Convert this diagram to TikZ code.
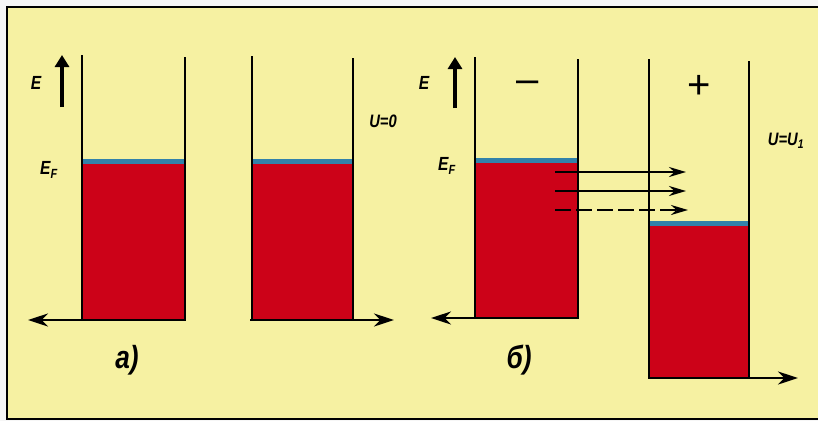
\documentclass[tikz,border=0pt]{standalone}
\usepackage{fontspec}
\setmainfont{Liberation Sans}
\newfontfamily\condfont[FakeStretch=0.82]{Liberation Sans}
\usetikzlibrary{arrows.meta}
\definecolor{bgyellow}{RGB}{246,241,162}
\definecolor{fillred}{RGB}{204,2,24}
\definecolor{fermiblue}{RGB}{50,130,170}
\begin{document}
\begin{tikzpicture}[x=1pt,y=-1pt,
  wall/.style={line width=2.8pt,black},
  sea/.style={fill=fillred,draw=black,line width=2.4pt},
  fermi/.style={line width=5pt,fermiblue},
  axisarrow/.style={line width=2.6pt,-{Stealth[length=20pt,width=13pt]}},
  eaxis/.style={line width=3.8pt,-{Triangle[length=12pt,width=14pt]}},
  lbl/.style={font=\condfont\itshape\bfseries\fontsize{19}{22}\selectfont,inner sep=0pt},
  ulbl/.style={font=\condfont\itshape\bfseries\fontsize{18}{22}\selectfont,inner sep=0pt},
  plbl/.style={font=\condfont\itshape\bfseries\fontsize{32}{38}\selectfont,inner sep=0pt},
  sign/.style={font=\fontsize{40}{44}\selectfont,inner sep=0pt},
  flow/.style={line width=2.2pt,-{Stealth[length=17pt,width=10pt]}}]
\useasboundingbox (0,0) rectangle (818,421);
\fill[white!93!gray] (0,0) rectangle (818,421);
\fill[bgyellow] (7,7) rectangle (818,419);
\draw[line width=2pt] (818,7) -- (7,7) -- (7,419) -- (818,419);

% ---------- panel a ----------
\draw[sea] (82,163) rectangle (185,320);
\draw[fermi] (83,161) -- (184,161);
\draw[wall] (82,55) -- (82,320);
\draw[wall] (185,57) -- (185,320);
\coordinate (a1r) at (185,320);
\coordinate (a1l) at (28,320);
\draw[axisarrow] (a1r) -- (a1l);

\draw[sea] (252,163) rectangle (353,320);
\draw[fermi] (253,161) -- (352,161);
\draw[wall] (252,56) -- (252,320);
\draw[wall] (353,58) -- (353,320);
\coordinate (a2l) at (250,320);
\coordinate (a2r) at (394,320);
\draw[axisarrow] (a2l) -- (a2r);

\coordinate (ea0) at (62,107);
\coordinate (ea1) at (62,55);
\draw[eaxis] (ea0) -- (ea1);
\node[lbl] (Ea) at (36,83) {E};
\node[lbl] (EFa) at (49,170) {E\textsubscript{F}};
\node[ulbl] (U0) at (383,121) {U=0};
\node[plbl] (la) at (127,360) {a)};

% ---------- panel b ----------
\draw[sea] (475,162) rectangle (578,318);
\draw[fermi] (476,160) -- (577,160);
\draw[wall] (475,57) -- (475,318);
\draw[wall] (578,59) -- (578,318);
\coordinate (b1r) at (578,318);
\coordinate (b1l) at (431,318);
\draw[axisarrow] (b1r) -- (b1l);

\draw[sea] (649,225) rectangle (749,378);
\draw[fermi] (650,223) -- (748,223);
\draw[wall] (649,59) -- (649,378);
\draw[wall] (749,61) -- (749,378);
\coordinate (b2l) at (649,378);
\coordinate (b2r) at (798,378);
\draw[axisarrow] (b2l) -- (b2r);

\coordinate (eb0) at (455,108);
\coordinate (eb1) at (455,57);
\draw[eaxis] (eb0) -- (eb1);
\node[lbl] (Eb) at (424,83) {E};
\node[lbl] (EFb) at (447,166) {E\textsubscript{F}};
\node[sign] (minus) at (528,87) {–};
\node[sign] (plus) at (699,87) {+};
\node[ulbl] (U1) at (786,141) {U=U\textsubscript{1}};
\node[plbl] (lb) at (519,360) {б)};

\coordinate (f1a) at (555,172);
\coordinate (f1b) at (686,172);
\coordinate (f2a) at (555,191);
\coordinate (f2b) at (686,191);
\coordinate (f3a) at (555,210);
\coordinate (f3b) at (688,210);
\draw[flow] (f1a) -- (f1b);
\draw[flow] (f2a) -- (f2b);
\draw[flow,dash pattern=on 16pt off 5pt] (f3a) -- (f3b);
\end{tikzpicture}
\end{document}
